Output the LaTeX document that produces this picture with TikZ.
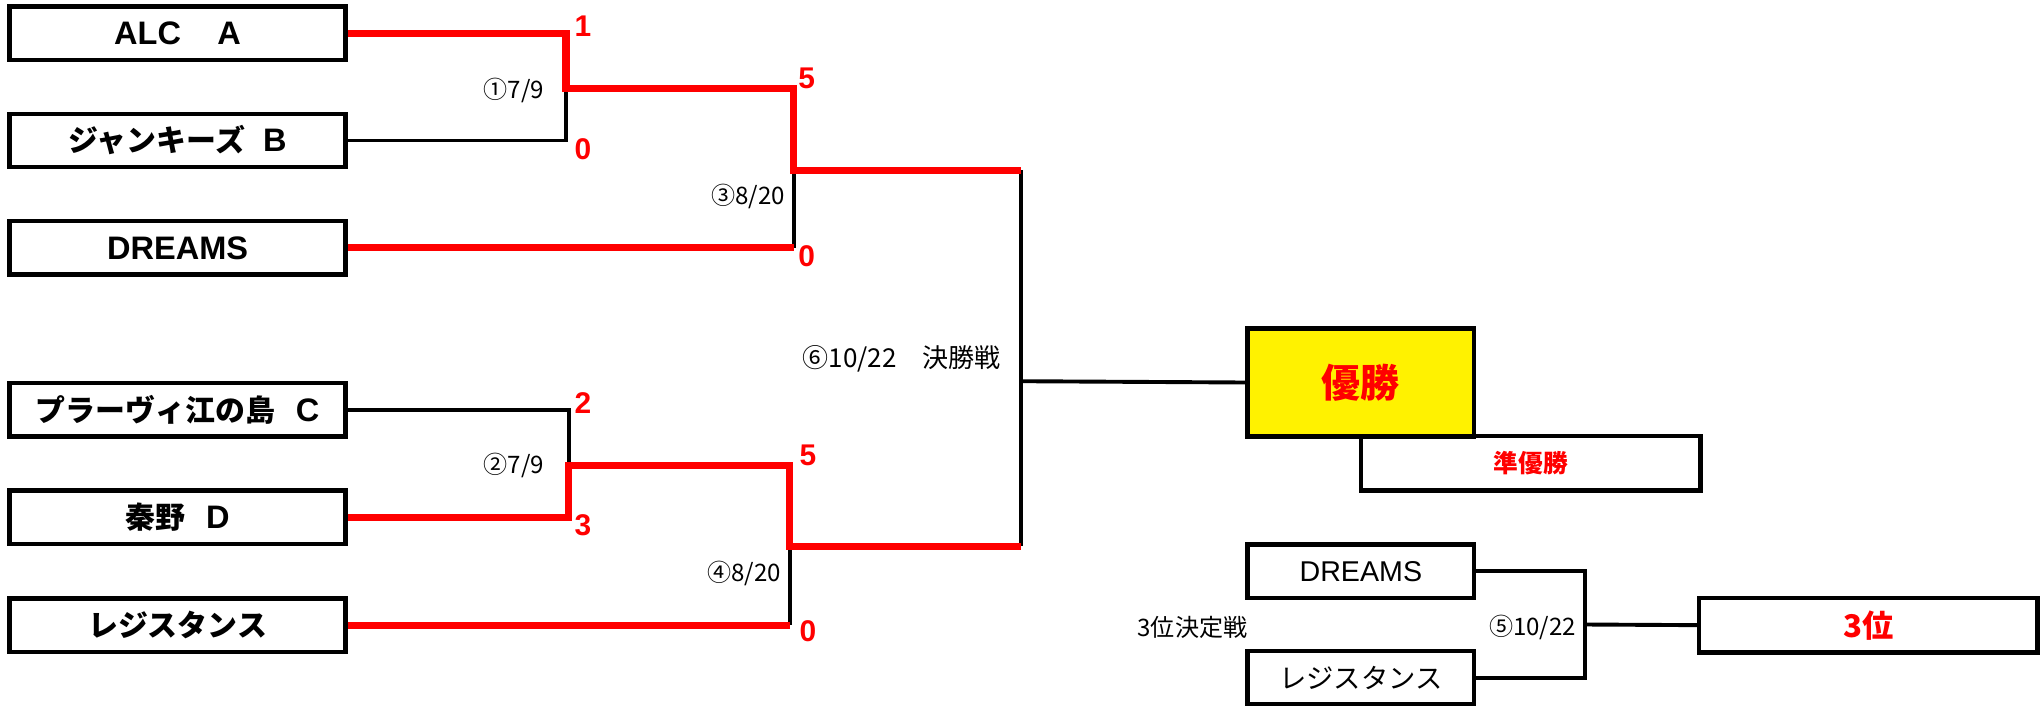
\documentclass[tikz,border=0pt]{standalone}
\usepackage{fontspec}
\setmainfont{Liberation Sans}
\newfontfamily\jp{Noto Sans CJK JP}
\newcommand{\lat}{\fontsize{25}{25}\selectfont}
\begin{document}
\begin{tikzpicture}[x=1pt,y=-1pt,
  team/.style={draw, line width=3.5pt, minimum width=258pt, minimum height=41pt, inner sep=0pt,
    font=\bfseries\fontsize{23}{23}\selectfont},
  rteam/.style={draw, line width=3.5pt, minimum width=174pt, minimum height=41pt, inner sep=0pt,
    font=\fontsize{22}{22}\selectfont},
  blk/.style={draw=black, line width=3pt},
  redl/.style={draw=red, line width=5.5pt},
  score/.style={text=red, inner sep=0pt, font=\bfseries\fontsize{23}{23}\selectfont},
  datelbl/.style={inner sep=0pt, font=\jp\fontsize{18.5}{18.5}\selectfont}]
\useasboundingbox (0,0) rectangle (1568,542);

% left teams
\node[team] (alc) at (136.5,25.6) {\lat ALC\hspace{28pt}A};
\node[team] (jan) at (136.5,108) {{\jp ジャンキーズ}\hspace{14pt}{\lat B}};
\node[team] (dre) at (136.5,190.5) {\lat DREAMS};
\node[team] (pra) at (136.5,315) {{\jp プラーヴィ江の島}\hspace{16pt}{\lat C}};
\node[team] (han) at (136.5,397.5) {{\jp 秦野}\hspace{16pt}{\lat D}};
\node[team] (rej) at (136.5,480.5) {\jp レジスタンス};

% right boxes
\node[draw, line width=3.5pt, fill=yellow, minimum width=174pt, minimum height=83pt, inner sep=0pt,
  text=red, font=\jp\bfseries\fontsize{30}{30}\selectfont] (yu) at (1046,294) {優勝};
\node[draw, line width=3.5pt, minimum width=261pt, minimum height=42pt, inner sep=0pt,
  text=red, font=\jp\bfseries\fontsize{19}{19}\selectfont] (jun) at (1176.5,356) {準優勝};
\node[rteam] (dr2) at (1046,439) {DREAMS};
\node[rteam] (rj2) at (1046,521) {\jp\fontsize{21}{21}\selectfont レジスタンス};
\node[draw, line width=3.5pt, minimum width=260pt, minimum height=42pt, inner sep=0pt,
  text=red, font=\jp\bfseries\fontsize{24}{24}\selectfont] (third) at (1436,480.5) {3位};

% junctions
\coordinate (j1) at (435,68);
\coordinate (j3) at (610,131);
\coordinate (j2) at (437,358);
\coordinate (j4) at (607,420);
\coordinate (jf) at (785,293);
\coordinate (j5) at (1218,480);

% black connectors
\draw[blk] (jan.east) -- (jan.east -| j1) -- (j1);
\draw[blk] (dre.east -| j3) -- (j3);
\draw[blk] (pra.east) -- (pra.east -| j2) -- (j2);
\draw[blk] (rej.east -| j4) -- (j4);
\draw[blk] (j3 -| jf) -- (j4 -| jf);
\draw[blk] (jf) -- (yu.west);
\draw[blk] (dr2.east) -- (dr2.east -| j5) -- (rj2.east -| j5) -- (rj2.east);
\draw[blk] (j5) -- (third.west);

% red winner paths
\draw[redl] (alc.east) -- (alc.east -| j1) -- (j1) -- (j1 -| j3) -- (j3) -- (j3 -| jf);
\draw[redl] (dre.east) -- (dre.east -| j3);
\draw[redl] (han.east) -- (han.east -| j2) -- (j2) -- (j2 -| j4) -- (j4) -- (j4 -| jf);
\draw[redl] (rej.east) -- (rej.east -| j4);

% scores
\node[score] (s1) at (448,20) {1};
\node[score] (s2) at (448,115) {0};
\node[score] (s3) at (620,60) {5};
\node[score] (s4) at (620,197) {0};
\node[score] (s5) at (448,310) {2};
\node[score] (s6) at (448,404) {3};
\node[score] (s7) at (621,350) {5};
\node[score] (s8) at (621,485) {0};

% match labels
\node[datelbl] (d1) at (395,69.5) {①7/9};
\node[datelbl] (d3) at (575,151) {③8/20};
\node[datelbl] (d2) at (395,358) {②7/9};
\node[datelbl] (d4) at (572,441) {④8/20};
\node[datelbl, font=\jp\fontsize{20}{20}\selectfont] (d6) at (693,275.5) {⑥10/22　決勝戦};
\node[datelbl] (d35) at (916.5,482) {3位決定戦};
\node[datelbl] (d5) at (1178,482) {⑤10/22};
\end{tikzpicture}
\end{document}
